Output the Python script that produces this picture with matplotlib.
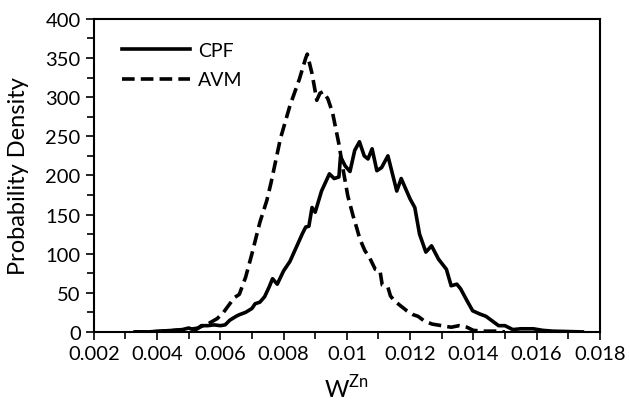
import matplotlib
matplotlib.use('Agg')
import matplotlib.pyplot as plt
from matplotlib.ticker import MultipleLocator

plt.rcParams['font.family'] = ['Lato', 'DejaVu Sans']

# CPF (solid)
cpf_x = [0.0033, 0.0037, 0.0041, 0.0045, 0.0048, 0.0050, 0.0052, 0.0054, 0.0056,
         0.0058, 0.0060, 0.00615, 0.0063, 0.0065, 0.0066, 0.0068, 0.0070, 0.0071,
         0.00725, 0.0074, 0.00755, 0.00765, 0.0078, 0.0080, 0.0082, 0.0084, 0.0086,
         0.0087, 0.0088, 0.0089, 0.0090, 0.0092, 0.00945, 0.0096, 0.00975, 0.0098,
         0.00995, 0.0101, 0.01025, 0.0104, 0.01055, 0.01067, 0.0108, 0.01095, 0.0111,
         0.0113, 0.01158, 0.01172, 0.0120, 0.01215, 0.0123, 0.0125, 0.01268, 0.0129,
         0.01315, 0.0133, 0.01348, 0.0136, 0.0138, 0.01398, 0.0142, 0.0144, 0.0146,
         0.0148, 0.0150, 0.01525, 0.0155, 0.0159, 0.0162, 0.0165, 0.0170, 0.01745]
cpf_y = [0, 0, 1, 2, 3, 5, 2, 8, 8,
         9, 8, 9, 15, 20, 22, 25, 30, 36,
         38, 45, 58, 68, 61, 78, 90, 108, 126,
         134, 135, 159, 153, 180, 202, 196, 198, 224,
         212, 205, 232, 243, 225, 221, 234, 206, 210,
         225, 180, 196, 170, 159, 125, 102, 110, 93,
         80, 59, 61, 55, 40, 27, 23, 20, 14,
         8, 8, 3, 4, 4, 2, 1, 0.5, 0]

# AVM (dashed)
avm_x = [0.0033, 0.0038, 0.0042, 0.0046, 0.0050, 0.0053, 0.00545, 0.0056, 0.00577,
         0.0059, 0.0061, 0.0063, 0.00645, 0.0066, 0.0068, 0.0070, 0.00725, 0.00747,
         0.0076, 0.0079, 0.0082, 0.0085, 0.0087, 0.00875, 0.0089, 0.00905, 0.00915,
         0.00925, 0.0094, 0.00955, 0.00965, 0.00975, 0.00988, 0.01003, 0.0102, 0.01032,
         0.01041, 0.01057, 0.01073, 0.0109, 0.01105, 0.01112, 0.0113, 0.01138, 0.0115,
         0.01168, 0.0119, 0.0121, 0.01225, 0.01245, 0.0127, 0.0130, 0.0133, 0.01355,
         0.0138, 0.0140, 0.0143, 0.0147, 0.0150]
avm_y = [0, 0, 1, 2, 3, 5, 8, 10, 14,
         17, 25, 36, 44, 48, 70, 100, 140, 168,
         190, 247, 289, 323, 350, 355, 330, 296, 305,
         307, 298, 280, 260, 240, 208, 174, 148, 132,
         119, 104, 94, 80, 78, 60, 57, 46, 40,
         34, 27, 22, 20, 14, 10, 8, 6, 8,
         6, 2, 1, 1, 0]

xticks = [0.002, 0.004, 0.006, 0.008, 0.01, 0.012, 0.014, 0.016, 0.018]
xtick_labels = ['0.002', '0.004', '0.006', '0.008', '0.01', '0.012', '0.014', '0.016', '0.018']

fig = plt.figure(figsize=(6.3, 4.06), dpi=100)
ax = fig.add_axes([0.149, 0.180, 0.803, 0.771])

ax.plot(cpf_x, cpf_y, color='black', lw=2.6, label='CPF')
ax.plot(avm_x, avm_y, color='black', lw=2.6, dashes=(3.5, 1.7), label='AVM')

ax.set_xlim(0.002, 0.018)
ax.set_ylim(0, 400)
ax.set_xticks(xticks)
ax.set_xticklabels(xtick_labels)
ax.xaxis.set_minor_locator(MultipleLocator(0.001))
ax.yaxis.set_major_locator(MultipleLocator(50))
ax.yaxis.set_minor_locator(MultipleLocator(25))
ax.tick_params(which='major', direction='out', length=6, width=1.2, labelsize=14.5)
ax.tick_params(which='minor', direction='out', length=5, width=1.2)
for s in ax.spines.values():
    s.set_linewidth(1.5)

ax.set_xlabel('W$^{\\mathregular{Zn}}$', fontsize=17)
ax.xaxis.set_label_coords(0.5, -0.13)
ax.set_ylabel('Probability Density', fontsize=17)
ax.yaxis.set_label_coords(-0.128, 0.5)

ax.legend(loc='upper left', bbox_to_anchor=(0.04, 0.952), frameon=False, fontsize=14,
          handlelength=3.5, labelspacing=0.65, handletextpad=0.4, borderaxespad=0)

fig.savefig('out.png', dpi=100)
